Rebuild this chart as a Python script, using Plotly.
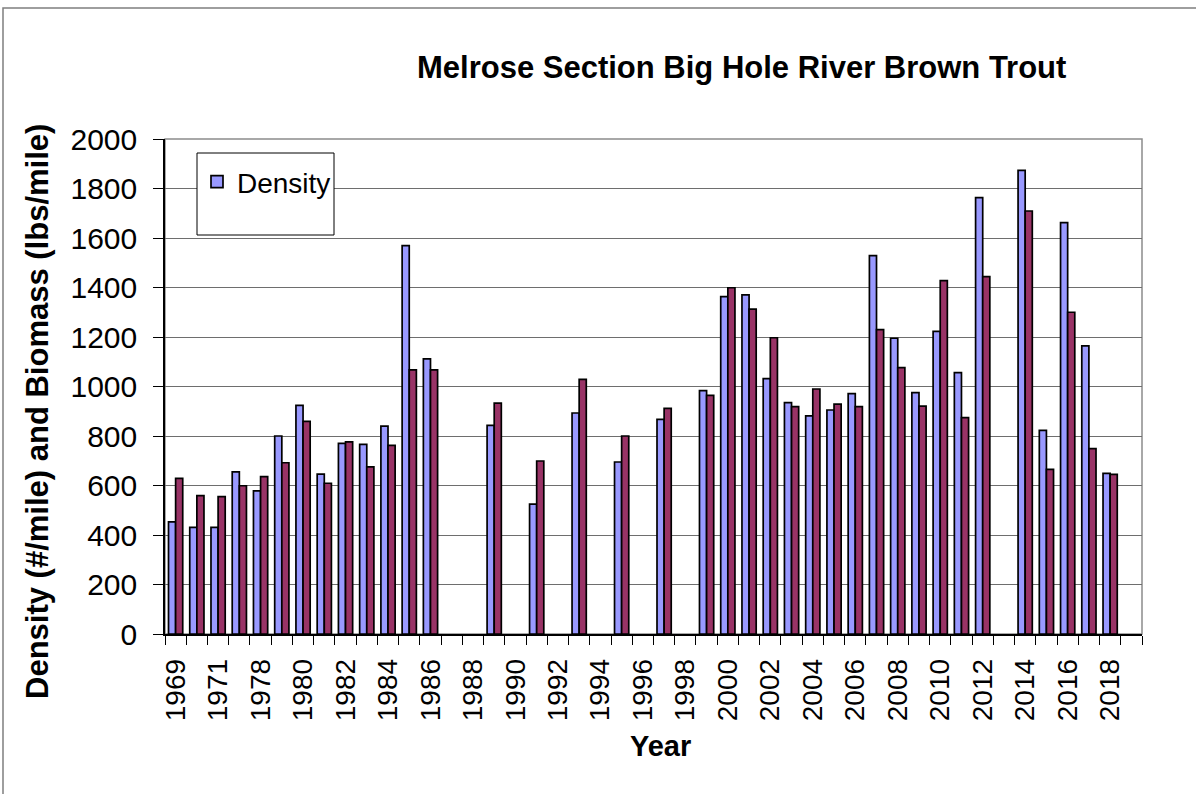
import plotly.graph_objects as go

# Sampling years on the category axis (1977 sits between 1971 and 1978)
years = [1969, 1970, 1971, 1977, 1978, 1979, 1980, 1981, 1982, 1983, 1984,
         1985, 1986, 1987, 1988, 1989, 1990, 1991, 1992, 1993, 1994, 1995,
         1996, 1997, 1998, 1999, 2000, 2001, 2002, 2003, 2004, 2005, 2006,
         2007, 2008, 2009, 2010, 2011, 2012, 2013, 2014, 2015, 2016, 2017,
         2018, 2019]

# Brown trout density (#/mile); None where no survey was done
density = [453, 431, 431, 655, 578, 800, 924, 646, 770, 766, 840,
           1569, 1112, None, None, 843, None, 525, None, 893, None, 695,
           None, 867, None, 983, 1363, 1370, 1032, 935, 881, 905, 971,
           1529, 1195, 975, 1223, 1056, 1763, None, 1873, 823, 1662, 1164,
           649, None]

# Brown trout biomass (lbs/mile)
biomass = [629, 559, 555, 599, 636, 692, 859, 609, 776, 675, 762,
           1067, 1067, None, None, 933, None, 699, None, 1029, None, 800,
           None, 912, None, 964, 1399, 1313, 1197, 919, 990, 929, 919,
           1230, 1076, 921, 1428, 874, 1444, None, 1709, 665, 1300, 749,
           645, None]

y_ticks = list(range(0, 2001, 200))

FONT = "Arial, Liberation Sans, sans-serif"
pos = list(range(len(years)))

fig = go.Figure()
fig.add_trace(go.Bar(
    x=pos, y=density, name="Density",
    marker=dict(color="#9999FF", line=dict(color="black", width=1.7)),
))
fig.add_trace(go.Bar(
    x=pos, y=biomass, name="Biomass", showlegend=False,
    marker=dict(color="#993366", line=dict(color="black", width=1.7)),
))

# plot area: 165..1142 px horizontally, 139..634 px vertically
L, R, T, B = 165, 1142, 139, 634
W, H = R - L, B - T


def px(x):
    return (x - L) / W


def py(y):
    return (B - y) / H


shapes = [
    # outer chart frame
    dict(type="rect", xref="paper", yref="paper",
         x0=px(3), x1=px(1300), y0=py(900), y1=py(8),
         line=dict(color="#7f7f7f", width=1.5), fillcolor="rgba(0,0,0,0)",
         layer="below"),
    # plot-area frame (top and right edges show grey)
    dict(type="rect", xref="paper", yref="paper", x0=0, x1=1, y0=0, y1=1,
         line=dict(color="#8c8c8c", width=1.5), layer="below"),
    # legend box
    dict(type="rect", xref="paper", yref="paper",
         x0=px(197), x1=px(334), y0=py(235), y1=py(153),
         line=dict(color="black", width=1), fillcolor="white", layer="above"),
]

annotations = [
    dict(text="<b>Melrose Section Big Hole River Brown Trout</b>",
         xref="paper", yref="paper", x=px(741), y=py(68),
         xanchor="center", yanchor="middle", showarrow=False,
         font=dict(family=FONT, size=31, color="black")),
    dict(text="<b>Density (#/mile) and Biomass (lbs/mile)</b>",
         xref="paper", yref="paper", x=px(37), y=py(412),
         xanchor="center", yanchor="middle", textangle=-90, showarrow=False,
         font=dict(family=FONT, size=31, color="black")),
    dict(text="<b>Year</b>",
         xref="paper", yref="paper", x=px(660), y=py(746),
         xanchor="center", yanchor="middle", showarrow=False,
         font=dict(family=FONT, size=29, color="black")),
]

fig.update_layout(
    width=1196, height=794,
    margin=dict(l=L, r=1196 - R, t=T, b=794 - B, pad=0),
    paper_bgcolor="white", plot_bgcolor="white",
    barmode="group", bargap=0.33, bargroupgap=0,
    font=dict(family=FONT, size=28, color="black"),
    shapes=shapes, annotations=annotations,
    legend=dict(x=px(197), y=py(157), xanchor="left", yanchor="top",
                bgcolor="rgba(0,0,0,0)", borderwidth=0,
                font=dict(family=FONT, size=28, color="black"),
                itemwidth=30, tracegroupgap=0),
)

fig.update_xaxes(
    range=[-0.5, len(years) - 0.5],
    tickvals=pos[::2], ticktext=[str(y) for y in years[::2]],
    tickangle=-90, ticks="", showgrid=False, zeroline=False,
    showline=True, linecolor="black", linewidth=1.5,
    tickfont=dict(family=FONT, size=28, color="black"),
    ticklabelstandoff=12,
    minor=dict(tickvals=[p - 0.5 for p in pos] + [len(years) - 0.5],
               ticks="outside", ticklen=9, tickcolor="black", tickwidth=1,
               showgrid=False),
)
fig.update_yaxes(
    range=[0, 2000], tickvals=y_ticks,
    ticks="outside", ticklen=10, tickcolor="black", tickwidth=1,
    showgrid=True, gridcolor="#6e6e6e", gridwidth=1, zeroline=False,
    showline=True, linecolor="black", linewidth=1.5,
    tickfont=dict(family=FONT, size=30, color="black"),
    ticklabelstandoff=10,
)

fig.write_html("out.html")
